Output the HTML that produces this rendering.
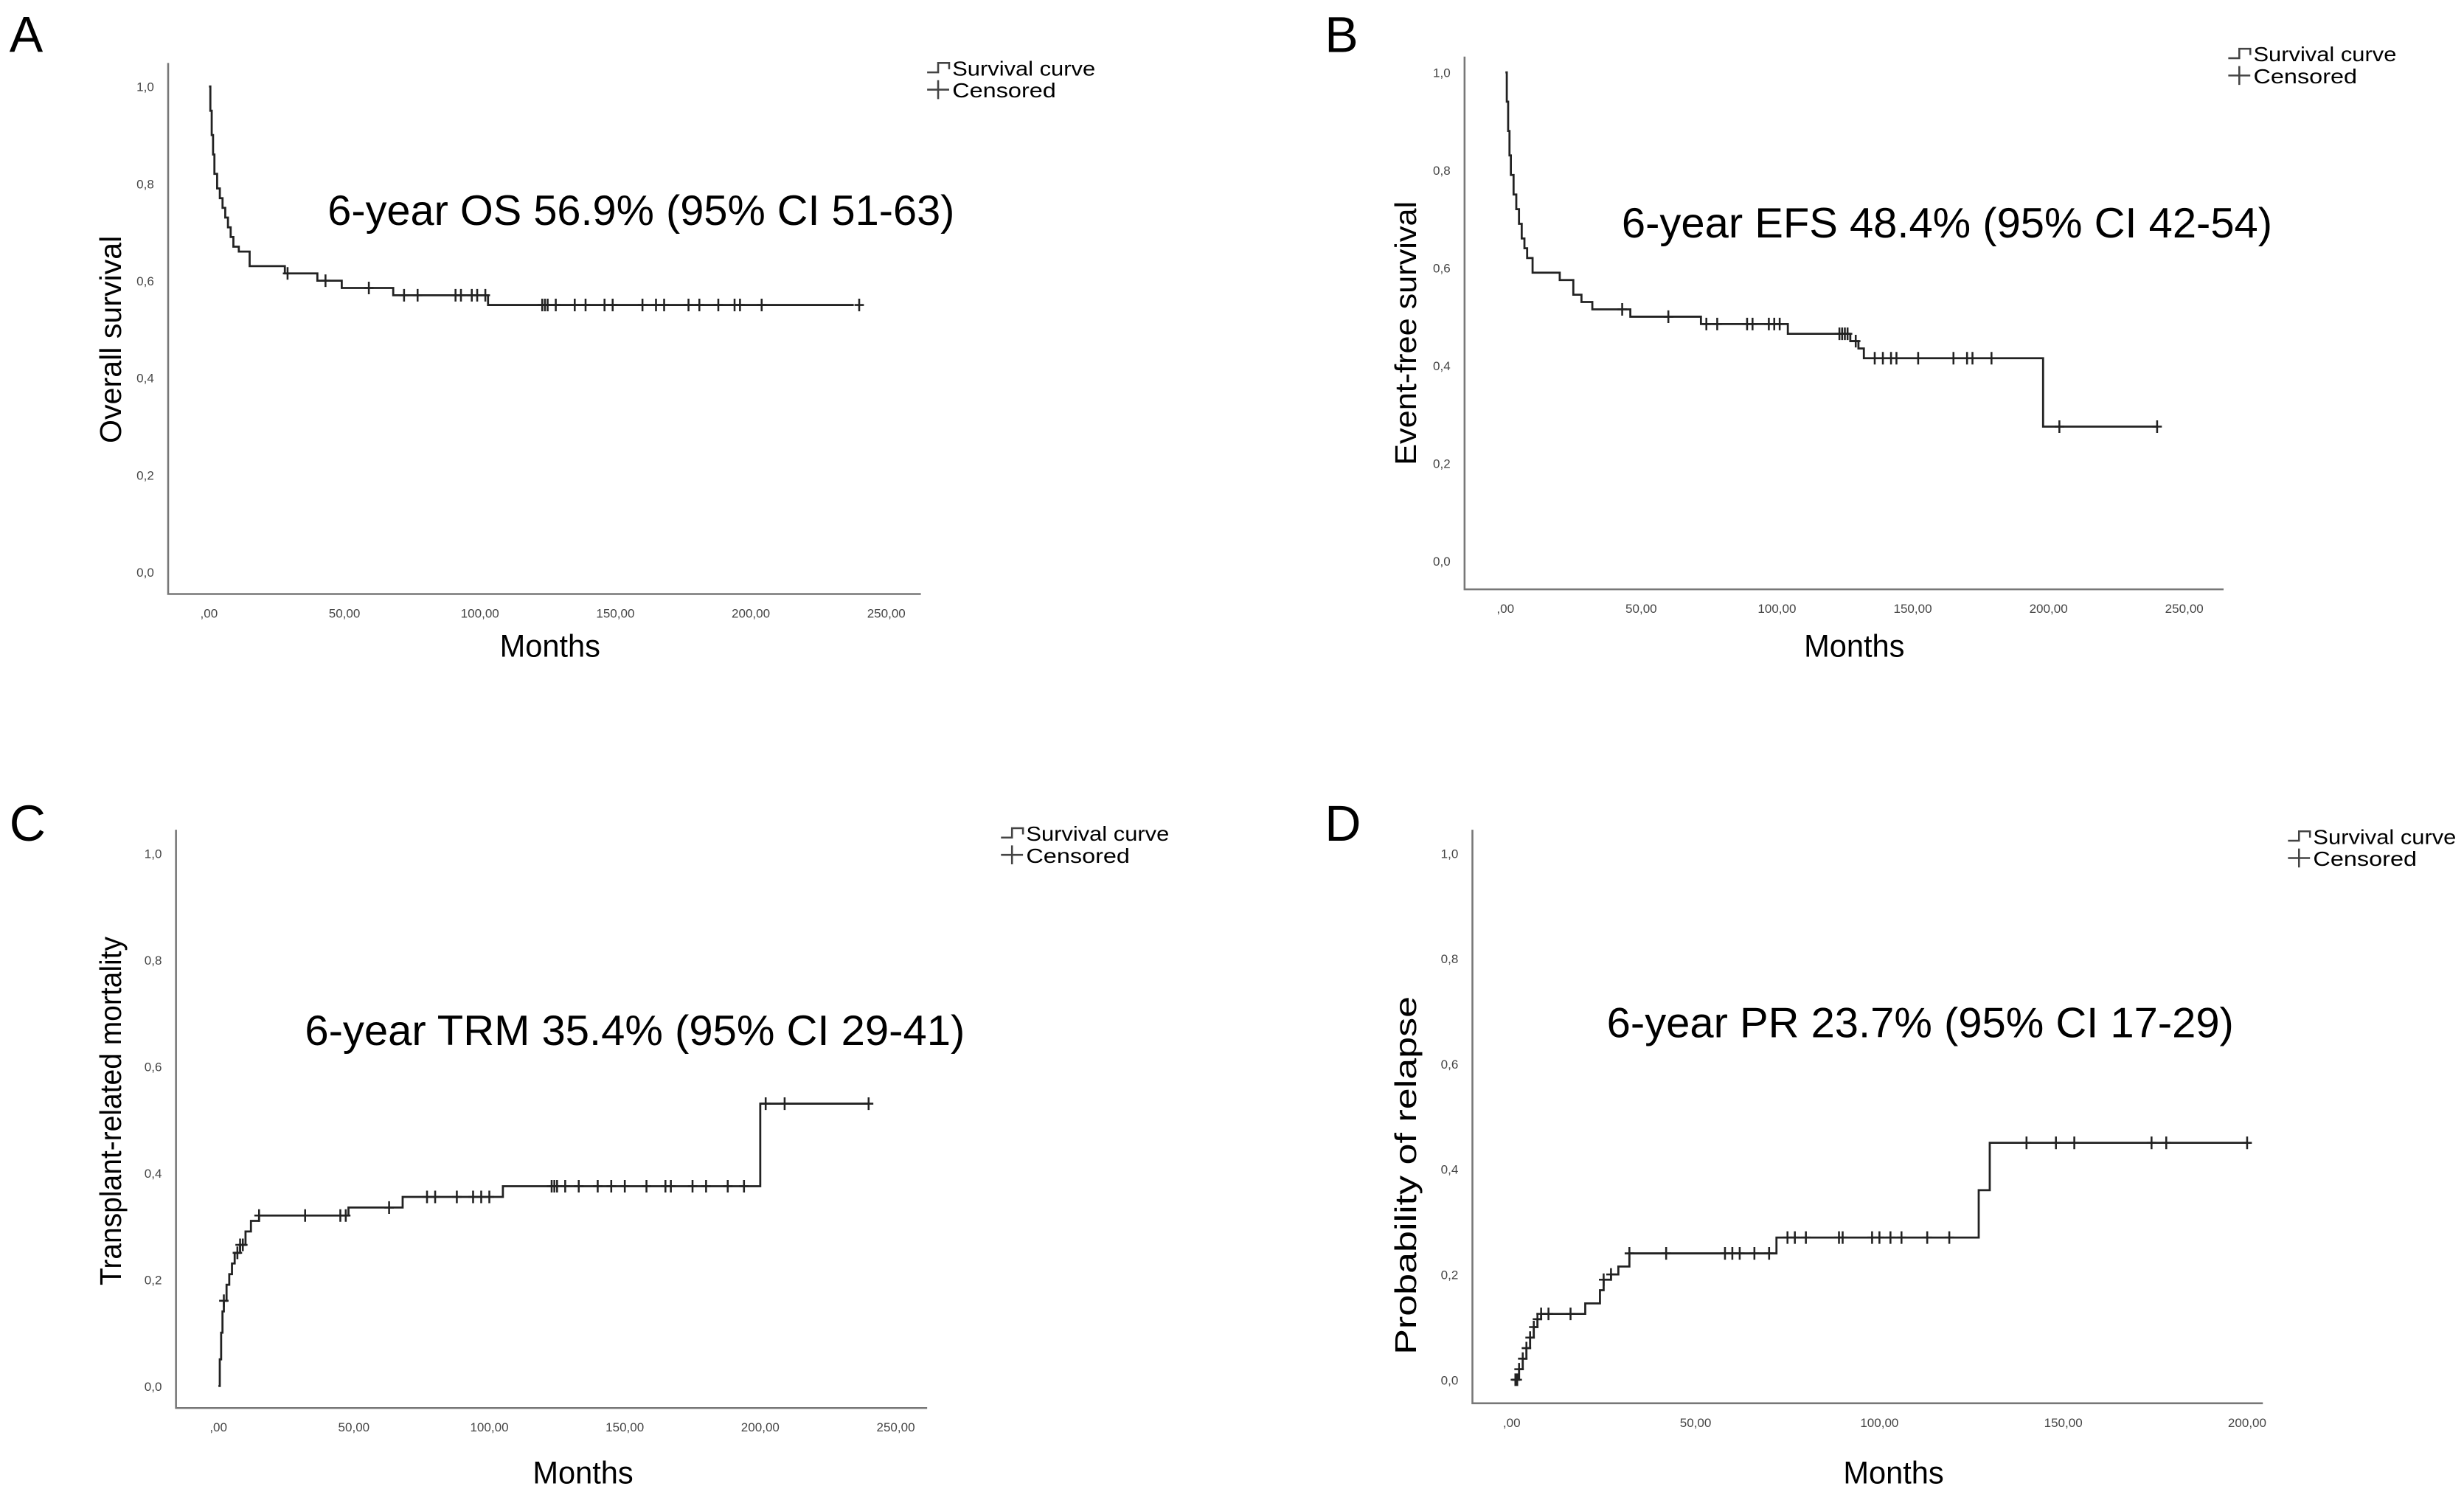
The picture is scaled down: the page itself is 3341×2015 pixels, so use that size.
<!DOCTYPE html>
<html><head><meta charset="utf-8"><style>
html,body{margin:0;padding:0;background:#fff;}
svg{display:block;}
text{font-family:"Liberation Sans",Arial,sans-serif;}
</style></head>
<body>
<svg id="fig" width="3341" height="2015" viewBox="0 0 1568 945.6" xmlns="http://www.w3.org/2000/svg"></svg>
<script>
// ---- Data (months, probability) ----
const xTicks250 = [0, 50, 100, 150, 200, 250];
const xTicks200 = [0, 50, 100, 150, 200];
const xTickLabels250 = [",00", "50,00", "100,00", "150,00", "200,00", "250,00"];
const xTickLabels200 = [",00", "50,00", "100,00", "150,00", "200,00"];
const yTicks = [0, 0.2, 0.4, 0.6, 0.8, 1.0];
const yTickLabels = ["0,0", "0,2", "0,4", "0,6", "0,8", "1,0"];

const osTimes  = [0, 0.5, 1, 1.5, 2, 3, 4, 5, 6, 7, 8, 9, 11, 15, 28, 40, 49, 68, 103, 238];
const osValues = [1.0, 0.95, 0.9, 0.86, 0.82, 0.79, 0.77, 0.75, 0.73, 0.71, 0.69, 0.67, 0.66, 0.63, 0.615, 0.60, 0.585, 0.57, 0.55, 0.55];
const osCensored = [29, 43, 59, 72, 77, 91, 93, 97, 99, 102, 123, 124, 125, 128, 135, 139, 146, 149, 160, 165, 168, 177, 181, 188, 194, 196, 204, 240];

const efsTimes  = [0, 0.5, 1, 1.5, 2, 3, 4, 5, 6, 7, 8, 10, 20, 25, 28, 32, 46, 72, 104, 127, 130, 132, 198, 240];
const efsValues = [1.0, 0.94, 0.88, 0.83, 0.79, 0.75, 0.72, 0.69, 0.66, 0.64, 0.62, 0.59, 0.575, 0.545, 0.53, 0.515, 0.50, 0.485, 0.465, 0.45, 0.435, 0.415, 0.275, 0.275];
const efsCensored = [43, 60, 74, 78, 89, 91, 97, 99, 101, 123, 124, 125, 126, 129, 136, 139, 142, 144, 152, 165, 170, 172, 179, 204, 240];

const trmTimes  = [0, 0.5, 1, 1.5, 2, 3, 4, 5, 6, 8, 10, 12, 15, 48, 68, 105, 200, 240];
const trmValues = [0.0, 0.05, 0.10, 0.14, 0.16, 0.19, 0.21, 0.23, 0.25, 0.265, 0.29, 0.31, 0.32, 0.335, 0.355, 0.375, 0.53, 0.53];
const trmCensored = [2, 7, 8, 9, 15, 32, 45, 47, 63, 77, 80, 88, 94, 97, 100, 123, 124, 125, 128, 133, 140, 145, 150, 158, 165, 167, 175, 180, 188, 194, 202, 209, 240];

const prTimes  = [0, 2, 3, 4, 5, 6, 7, 8, 20, 24, 25, 27, 29, 32, 72, 127, 130, 200];
const prValues = [0.0, 0.02, 0.04, 0.06, 0.08, 0.10, 0.115, 0.125, 0.145, 0.17, 0.19, 0.20, 0.215, 0.24, 0.27, 0.36, 0.45, 0.45];
const prCensored = [1, 1.5, 2, 3, 4, 5, 6, 7, 8, 10, 16, 25, 27, 32, 42, 58, 60, 62, 66, 70, 75, 77, 80, 89, 90, 98, 100, 103, 106, 113, 119, 140, 148, 153, 174, 178, 200];

const NS = "http://www.w3.org/2000/svg";
const svg = document.getElementById("fig");
function mk(tag, attrs, parent, txt) {
  const e = document.createElementNS(NS, tag);
  for (const k in attrs) e.setAttribute(k, attrs[k]);
  if (txt !== undefined) e.textContent = txt;
  (parent || svg).appendChild(e);
  return e;
}

const panels = [
  {id:"a", letter:"A", lx:6, ly:33, axX:107, axTop:40, axBot:378, axRight:586, x0:133, x1:564, xmax:250, yTop:55, yBot:364,
   xt:xTicks250, xl:xTickLabels250, times:osTimes, vals:osValues, cens:osCensored,
   ytitle:"Overall survival", ytx:77, yty:216, ytl:132, mx:350, my:418, ann:"6-year OS 56.9% (95% CI 51-63)", annx:408, anny:143, annl:399,
   legx:590, legy:44},
  {id:"b", letter:"B", lx:843, ly:33, axX:932, axTop:36, axBot:375, axRight:1415, x0:958, x1:1390, xmax:250, yTop:46, yBot:357,
   xt:xTicks250, xl:xTickLabels250, times:efsTimes, vals:efsValues, cens:efsCensored,
   ytitle:"Event-free survival", ytx:901, yty:212, ytl:168, mx:1180, my:418, ann:"6-year EFS 48.4% (95% CI 42-54)", annx:1239, anny:151, annl:414,
   legx:1418, legy:35},
  {id:"c", letter:"C", lx:6, ly:535, axX:112, axTop:528, axBot:896, axRight:590, x0:139, x1:570, xmax:250, yTop:543, yBot:882,
   xt:xTicks250, xl:xTickLabels250, times:trmTimes, vals:trmValues, cens:trmCensored,
   ytitle:"Transplant-related mortality", ytx:77, yty:707, ytl:222, mx:371, my:944, ann:"6-year TRM 35.4% (95% CI 29-41)", annx:404, anny:665, annl:420,
   legx:637, legy:531},
  {id:"d", letter:"D", lx:843, ly:535, axX:937, axTop:528, axBot:893, axRight:1440, x0:962, x1:1430, xmax:200, yTop:543, yBot:878,
   xt:xTicks200, xl:xTickLabels200, times:prTimes, vals:prValues, cens:prCensored,
   ytitle:"Probability of relapse", ytx:901, yty:748, ytl:228, mx:1205, my:944, ann:"6-year PR 23.7% (95% CI 17-29)", annx:1222, anny:660, annl:399,
   legx:1456, legy:533}
];

panels.forEach(p => {
  const g = mk("g", {});
  
  
  const xs = t => p.x0 + (p.x1 - p.x0) * t / p.xmax;
  const ys = v => p.yBot - (p.yBot - p.yTop) * v;

  const L = mk("text", {x:p.lx, y:p.ly, "font-size":32, fill:"#000"}, g, p.letter);
  
  

  const ax = mk("path", {d:`M${p.axX} ${p.axTop} V${p.axBot} H${p.axRight}`, stroke:"#777", "stroke-width":1.2, fill:"none"}, g);
  
  

  yTicks.forEach((v, i) => {
    const t = mk("text", {x:p.axX - 9, y:ys(v) + 3, "font-size":8, fill:"#444", "text-anchor":"end"}, g, yTickLabels[i]);
    
    
  });
  p.xt.forEach((v, i) => {
    const t = mk("text", {x:xs(v), y:p.axBot + 15, "font-size":8, fill:"#444", "text-anchor":"middle"}, g, p.xl[i]);
    
    
  });

  const yt = mk("text", {x:p.ytx, y:p.yty, "font-size":19, fill:"#000", "text-anchor":"middle", textLength:p.ytl, lengthAdjust:"spacingAndGlyphs", transform:`rotate(-90 ${p.ytx} ${p.yty})`}, g, p.ytitle);
  
  
  const xt = mk("text", {x:p.mx, y:p.my, "font-size":20, fill:"#000", "text-anchor":"middle", textLength:64, lengthAdjust:"spacingAndGlyphs"}, g, "Months");
  
  

  const an = mk("text", {x:p.annx, y:p.anny, "font-size":27, fill:"#000", "text-anchor":"middle", textLength:p.annl, lengthAdjust:"spacingAndGlyphs"}, g, p.ann);
  
  

  // step curve
  let d = `M${xs(p.times[0])} ${ys(p.vals[0])}`;
  for (let i = 1; i < p.times.length; i++) {
    d += ` H${xs(p.times[i])} V${ys(p.vals[i])}`;
  }
  const c = mk("path", {d:d, stroke:"#222", "stroke-width":1.3, fill:"none"}, g);
  
  

  const valueAt = t => {
    let v = p.vals[0];
    for (let i = 0; i < p.times.length; i++) if (p.times[i] <= t) v = p.vals[i];
    return v;
  };
  p.cens.forEach(t => {
    const cx = xs(t), cy = ys(valueAt(t));
    const m = mk("path", {d:`M${cx} ${cy-4} V${cy+4} M${cx-3} ${cy} H${cx+3}`, stroke:"#222", "stroke-width":1.2}, g);
    
    
  });

  // legend
  const lg = mk("g", {}, g);
  
  
  const ls = mk("path", {d:`M${p.legx} ${p.legy+2} H${p.legx+7} V${p.legy-4} H${p.legx+14} V${p.legy}`, stroke:"#444", "stroke-width":1.2, fill:"none"}, lg);
  
  
  const l1 = mk("text", {x:p.legx+16, y:p.legy+4, "font-size":13, fill:"#000", textLength:91, lengthAdjust:"spacingAndGlyphs"}, lg, "Survival curve");
  
  
  const lc = mk("path", {d:`M${p.legx} ${p.legy+13} H${p.legx+14} M${p.legx+7} ${p.legy+7} V${p.legy+19}`, stroke:"#444", "stroke-width":1.2}, lg);
  
  
  const l2 = mk("text", {x:p.legx+16, y:p.legy+18, "font-size":13, fill:"#000", textLength:66, lengthAdjust:"spacingAndGlyphs"}, lg, "Censored");
  
  
});
</script>
</body></html>
